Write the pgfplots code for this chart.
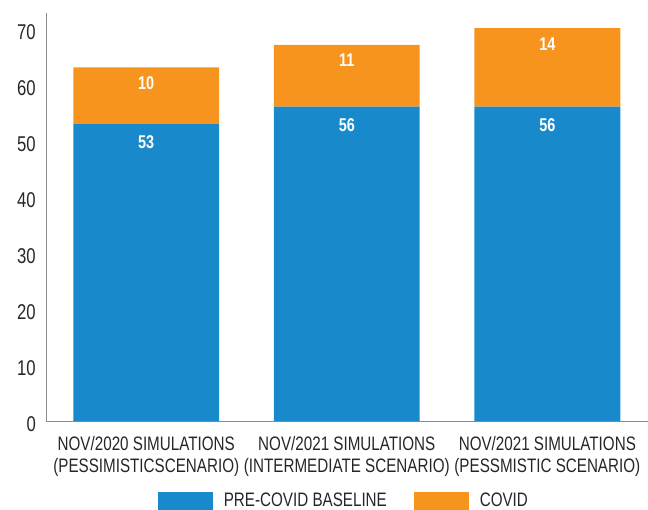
\documentclass[border=0pt]{standalone}
\usepackage{pgfplots}
\usepackage{pgfplotstable}
\pgfplotsset{compat=1.18}
\usepackage{fontspec}
\setmainfont[FakeStretch=0.78]{Liberation Sans}
\definecolor{cblue}{HTML}{1889CA}
\definecolor{corange}{HTML}{F7941E}
\definecolor{axgray}{HTML}{8C8C8C}
\pgfplotstableread{
x base covid
0 53 10
1 56 11
2 56 14
}\data
\begin{document}
\begin{tikzpicture}
\begin{axis}[
  at={(0bp,0bp)}, anchor=south west,
  scale only axis,
  width=602bp, height=408.3bp,
  ybar stacked, bar width=146bp,
  xmin=-0.5, xmax=2.5, ymin=0, ymax=72.7,
  axis x line*=bottom, axis y line*=left,
  axis line style={axgray, line width=0.8bp},
  major tick length=0pt,
  ytick={0,10,...,70},
  xtick={0,1,2},
  xticklabels={{NOV/2020 SIMULATIONS\\(PESSIMISTICSCENARIO)},{NOV/2021 SIMULATIONS\\(INTERMEDIATE SCENARIO)},{NOV/2021 SIMULATIONS\\(PESSMISTIC SCENARIO)}},
  /pgf/number format/assume math mode=true,
  yticklabel style={anchor=east, inner sep=0pt, xshift=-10bp, yshift=-3.5bp, text=black!85, font=\fontsize{21.4bp}{24bp}\selectfont},
  xticklabel style={align=center, anchor=north, inner sep=0pt, yshift=-15.4bp, text=black!85, font=\fontsize{19.5bp}{21.8bp}\selectfont},
  legend columns=2,
  legend style={draw=none, fill=none, at={(0.186,-0.1749)}, anchor=north west, inner sep=0pt, outer sep=0pt,
    font=\fontsize{19.5bp}{21.8bp}\selectfont, text=black!85,
    nodes={inner sep=0pt, anchor=base west},
    /tikz/every even column/.append style={column sep=27bp},
    /tikz/every odd column/.append style={column sep=11bp}},
]
\addplot[fill=cblue, draw=none,
  legend image code/.code={\fill[cblue] (0bp,-3bp) rectangle (55bp,14.3bp);},
  visualization depends on={rawy \as \rawy},
  point meta=explicit symbolic, nodes near coords, nodes near coords align={below},
  every node near coord/.append style={yshift={\rawy*2.808bp-11.5bp}, inner sep=0pt, text=white, font=\bfseries\fontsize{18.5bp}{20bp}\selectfont}]
  table[x=x, y=base, meta=base] {\data};
\addplot[fill=corange, draw=none,
  legend image code/.code={\fill[corange] (0bp,-3bp) rectangle (55bp,14.3bp);},
  visualization depends on={rawy \as \rawy},
  point meta=explicit symbolic, nodes near coords, nodes near coords align={below},
  every node near coord/.append style={yshift={\rawy*2.808bp-9bp}, inner sep=0pt, text=white, font=\bfseries\fontsize{18.5bp}{20bp}\selectfont}]
  table[x=x, y=covid, meta=covid] {\data};
\legend{PRE-COVID BASELINE, COVID}
\end{axis}
\path[use as bounding box] (-46bp,-86.7bp) rectangle (602bp,421.3bp);
\end{tikzpicture}
\end{document}
